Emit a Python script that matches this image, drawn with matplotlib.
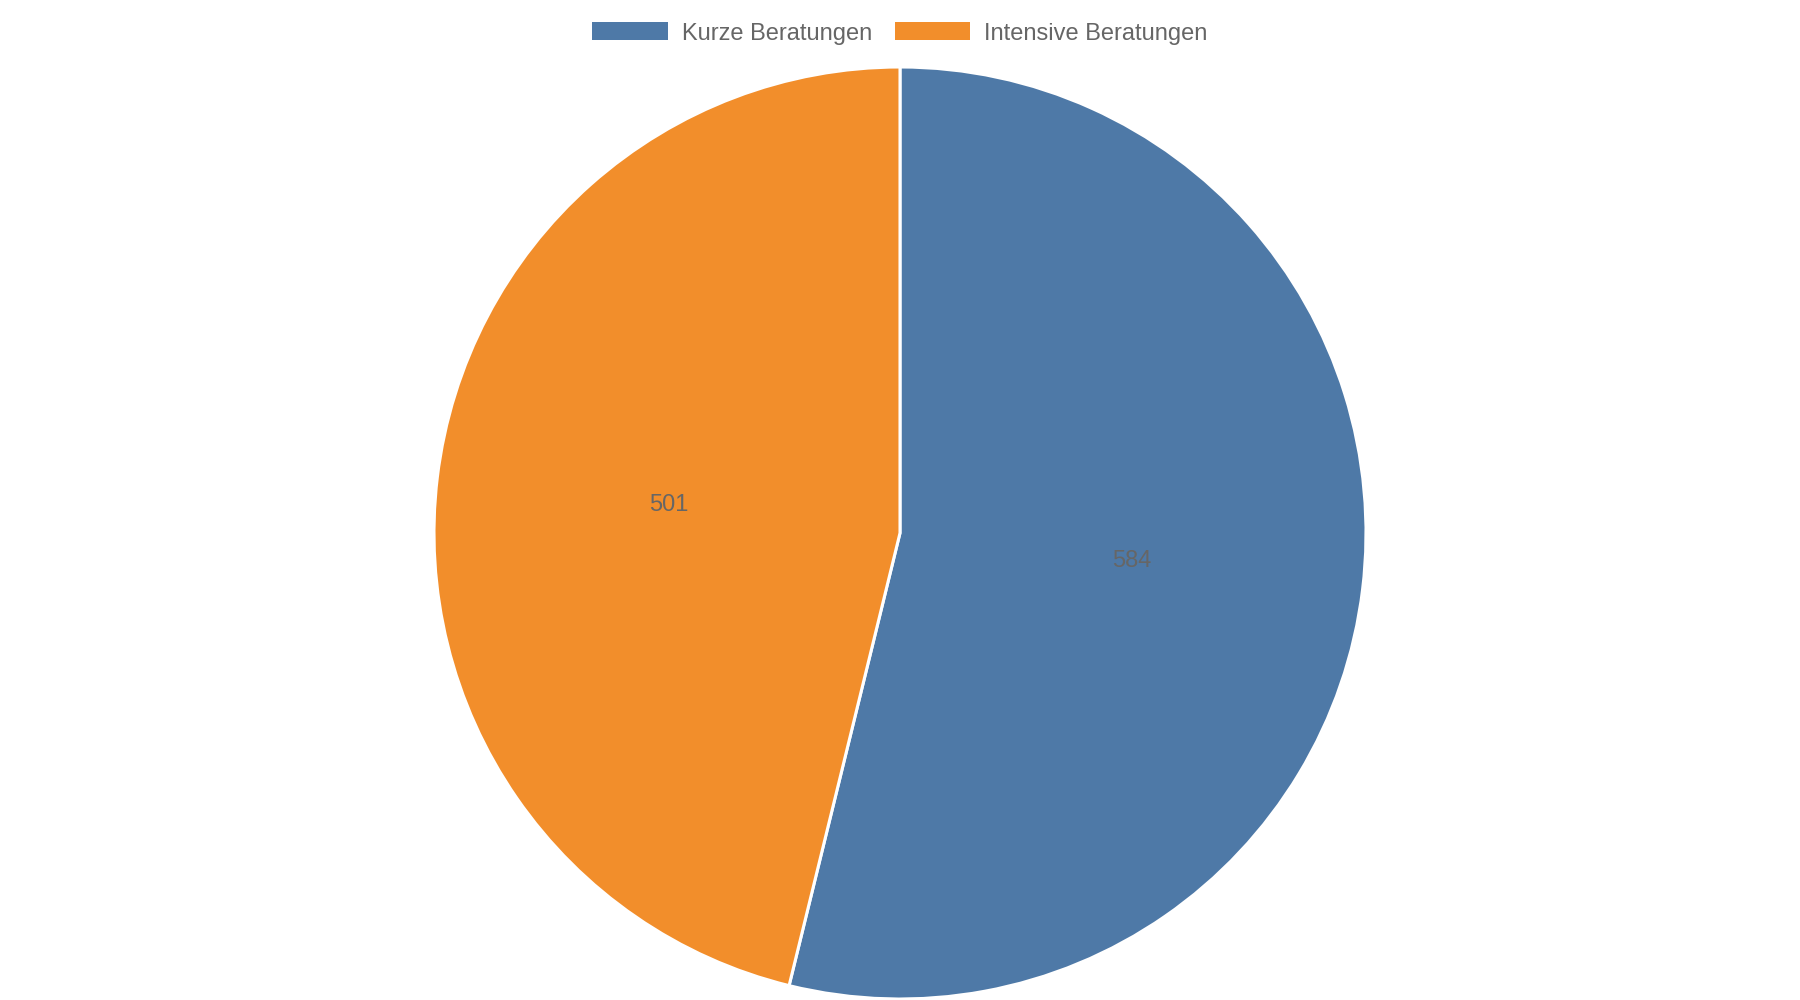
import matplotlib
matplotlib.use("Agg")
import matplotlib.pyplot as plt
from matplotlib.patches import Patch

categories = ["Kurze Beratungen", "Intensive Beratungen"]
values = [584, 501]
colors = ["#4e79a7", "#f28e2b"]

plt.rcParams['font.family'] = ['Liberation Sans', 'DejaVu Sans']

fig = plt.figure(figsize=(18, 10), dpi=100)
cx, cy, r = 900, 533, 466
ax = fig.add_axes([(cx - r) / 1800, (1000 - cy - r) / 1000, 2 * r / 1800, 2 * r / 1000])

total = sum(values)
wedges, texts, autotexts = ax.pie(
    values, colors=colors, startangle=90, counterclock=False, radius=1.0,
    autopct=lambda p: f"{round(p * total / 100)}", pctdistance=0.5,
    wedgeprops=dict(edgecolor="white", linewidth=2.2),
    textprops=dict(color="#666666", fontsize=17),
)
ax.set_xlim(-1.0, 1.0)
ax.set_ylim(-1.0, 1.0)
ax.set_aspect("equal")
ax.axis("off")

handles = [Patch(facecolor=c, edgecolor="none") for c in colors]
leg = fig.legend(handles, categories, loc="center", bbox_to_anchor=(0.5, 1 - 33.5 / 1000),
                 ncol=2, frameon=False, fontsize=17, handlelength=3.2, handleheight=0.8,
                 handletextpad=0.6, columnspacing=0.95, borderaxespad=0)
for t in leg.get_texts():
    t.set_color("#666666")

fig.savefig("out.png", dpi=100, facecolor="white")
